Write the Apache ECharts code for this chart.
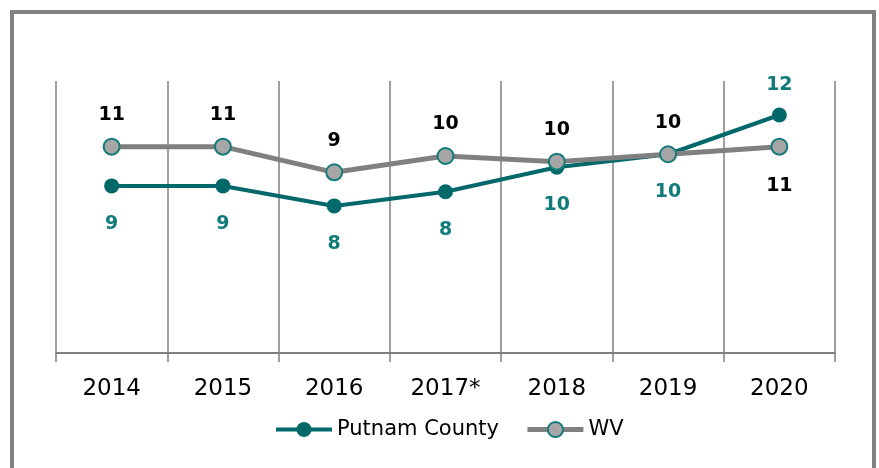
<!DOCTYPE html>
<html>
<head>
    <meta charset="utf-8">
    <title>Putnam County vs WV</title>
    <script src="https://cdn.jsdelivr.net/npm/echarts@6/dist/echarts.min.js" type="text/javascript"></script>
</head>
<body style="margin:0;background:#fff;">
<div id="main" style="width:879px;height:468px;"></div>
<script type="text/javascript">

var years = ['2014', '2015', '2016', '2017*', '2018', '2019', '2020'];
var putnam = [8.60, 8.60, 7.57, 8.30, 9.56, 10.23, 12.25];
var wv = [10.62, 10.62, 9.30, 10.14, 9.85, 10.23, 10.62];

var teal = '#03686a';
var tealText = '#117b7b';
var gray = '#808080';

// last point has the labels swapped (putnam above, wv below)
function buildData(vals, normalPos) {
    var out = [];
    for (var i = 0; i < vals.length; i++) {
        var pos = normalPos;
        if (i == vals.length - 1)
            pos = (normalPos == 'top') ? 'bottom' : 'top';
        out.push({
            value: vals[i],
            label: { position: pos, distance: pos == 'top' ? 13 : 21 }
        });
    }
    return out;
}

var myChart = echarts.init(document.getElementById('main'));
var option = {
    animation: false,
    graphic: [{
        type: 'rect',
        shape: { x: 12, y: 12, width: 862, height: 500 },
        style: { fill: 'none', stroke: gray, lineWidth: 4 }
    }],
    grid: { left: 56, right: 44, top: 81, bottom: 115 },
    legend: {
        left: 269,
        top: 414,
        itemWidth: 56,
        itemHeight: 19,
        itemGap: 26,
        textStyle: { fontFamily: 'DejaVu Sans', fontSize: 21, color: '#000' },
        data: [
            { name: 'Putnam County', lineStyle: { width: 4 } },
            { name: 'WV', lineStyle: { width: 5 } }
        ]
    },
    xAxis: {
        type: 'category',
        data: years,
        boundaryGap: true,
        axisLine: { lineStyle: { color: gray, width: 2 } },
        axisTick: { show: true, length: 9, lineStyle: { color: gray, width: 1.5 } },
        splitLine: { show: true, lineStyle: { color: gray, width: 1.5 } },
        axisLabel: { margin: 25, fontFamily: 'DejaVu Sans', fontSize: 23, color: '#000' }
    },
    yAxis: {
        type: 'value',
        min: 0,
        max: 14,
        show: false,
        splitLine: { show: false }
    },
    series: [{
        name: 'Putnam County',
        type: 'line',
        data: buildData(putnam, 'bottom'),
        symbol: 'circle',
        symbolSize: 15,
        lineStyle: { color: teal, width: 4 },
        itemStyle: { color: teal },
        label: {
            show: true,
            color: tealText,
            fontFamily: 'DejaVu Sans',
            fontWeight: 'bold',
            fontSize: 19,
            formatter: function (p) { return Math.round(p.value); }
        },
        z: 3
    }, {
        name: 'WV',
        type: 'line',
        data: buildData(wv, 'top'),
        symbol: 'circle',
        symbolSize: 16,
        lineStyle: { color: gray, width: 5 },
        itemStyle: { color: '#a6a6a6', borderColor: '#157a7a', borderWidth: 2 },
        label: {
            show: true,
            color: '#000',
            fontFamily: 'DejaVu Sans',
            fontWeight: 'bold',
            fontSize: 19,
            formatter: function (p) { return Math.round(p.value); }
        },
        z: 4
    }]
};
myChart.setOption(option);
</script>
</body>
</html>
